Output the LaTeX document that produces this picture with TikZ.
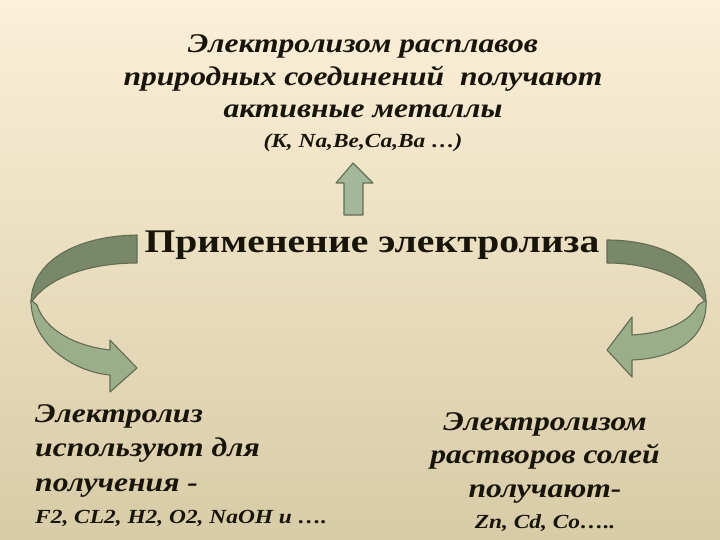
\documentclass[tikz,border=0pt]{standalone}
\usepackage{fontspec}
\setmainfont{Liberation Serif}
\newfontfamily\wideserif[FakeStretch=1.17]{Liberation Serif Bold Italic}
\newfontfamily\headserif[FakeStretch=1.2]{Liberation Serif}
\usetikzlibrary{calc}

\definecolor{ink}{RGB}{24,20,10}
\definecolor{paperTop}{RGB}{251,240,216}
\definecolor{paperBot}{RGB}{216,203,167}
\definecolor{bandDark}{RGB}{122,136,106}
\definecolor{bandLight}{RGB}{154,174,138}
\definecolor{bandEdge}{RGB}{98,108,82}
\definecolor{upFill}{RGB}{163,184,152}

\tikzset{
  bigline/.style={anchor=base, inner sep=0pt, text=ink,
    font=\wideserif\fontsize{27}{32}\selectfont},
  smallline/.style={anchor=base, inner sep=0pt, text=ink,
    font=\wideserif\fontsize{20}{24}\selectfont},
  headline/.style={anchor=base, inner sep=0pt, text=ink,
    font=\headserif\bfseries\fontsize{33}{38}\selectfont},
  band/.style={draw=bandEdge, line width=1.1pt, line join=round}
}

\begin{document}
\begin{tikzpicture}[x=1pt,y=-1pt]
\useasboundingbox (0,0) rectangle (720,540);
\shade[top color=paperTop, bottom color=paperBot] (0,0) rectangle (720,540);

% Top block
\node[bigline] (melt1) at (363,53) {Электролизом расплавов};
\node[bigline] (melt2) at (363,86) {природных соединений\ \ получают};
\node[bigline] (melt3) at (363,118) {активные металлы};
\node[smallline] (melt4) at (363,148) {(K, Na,Be,Ca,Ba …)};

% Up arrow
\draw[band, fill=upFill] (344,215) -- (344,183) -- (336,183) -- (353,163)
  -- (373,183) -- (363,183) -- (363,215) -- cycle;

% Title
\node[headline] (title) at (372,252) {Применение электролиза};

% Left curved arrow
\draw[band, fill=bandDark] (137,235) .. controls (75,236) and (31,262) .. (31,303)
  .. controls (45,280) and (85,263) .. (137,263) -- cycle;
\draw[band, fill=bandLight] (31,300) .. controls (31,345) and (75,372) .. (110,375)
  -- (110,392) -- (137,368) -- (110,340) -- (110,350)
  .. controls (75,346) and (45,330) .. (37,305) -- cycle;

% Right curved arrow
\draw[band, fill=bandDark] (607,240) .. controls (660,240) and (706,262) .. (706,303)
  .. controls (695,285) and (660,263) .. (607,263) -- cycle;
\draw[band, fill=bandLight] (706,300) .. controls (708,335) and (680,358) .. (632,360)
  -- (632,377) -- (607,350) -- (632,317) -- (632,335)
  .. controls (665,333) and (690,322) .. (698,305) -- cycle;

% Left block
\node[bigline, anchor=base west] (melts1) at (35,422) {Электролиз};
\node[bigline, anchor=base west] (melts2) at (35,456) {используют для};
\node[bigline, anchor=base west] (melts3) at (35,491) {получения -};
\node[smallline, anchor=base west] (melts4) at (35,523) {F2, CL2, H2, O2, NaOH и ….};

% Right block
\node[bigline] (sol1) at (545,430) {Электролизом};
\node[bigline] (sol2) at (545,463) {растворов солей};
\node[bigline] (sol3) at (545,497) {получают-};
\node[smallline] (sol4) at (545,528) {Zn, Cd, Co…..};
\end{tikzpicture}
\end{document}
